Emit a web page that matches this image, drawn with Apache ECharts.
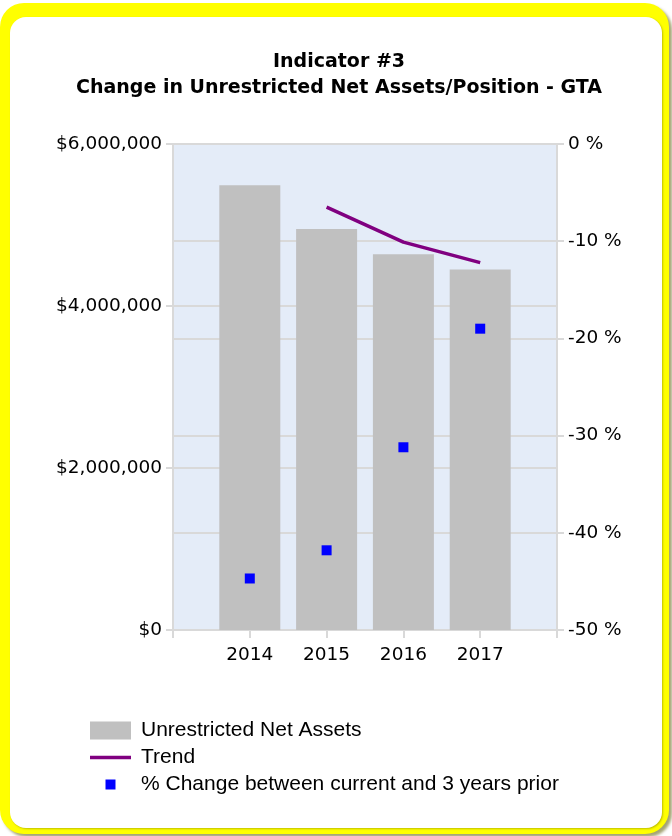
<!DOCTYPE html>
<html>
<head>
<meta charset="utf-8">
<script src="https://cdn.jsdelivr.net/npm/echarts@6/dist/echarts.min.js"></script>
<style>
html,body{margin:0;padding:0;background:#fff;}
#chart{width:672px;height:836px;}
</style>
</head>
<body>
<div id="chart"></div>
<script>
// ---- data ----
var years = [2014, 2015, 2016, 2017];
var netAssets = [5490000, 4950000, 4640000, 4450000];
var trendPct = [null, -6.5, -10.1, -12.2];
var changePct = [-44.7, -41.8, -31.2, -19.0];
var axisYears = [2013, 2018];
var leftTicks = [0, 6000000, 2000000];
var rightTicks = [-50, 0, 10];

var titleText = 'Indicator #3\nChange in Unrestricted Net Assets/Position - GTA';
var names = ['Unrestricted Net Assets', 'Trend', '% Change between current and 3 years prior'];

function pairs(xs, ys) {
  var out = [];
  for (var i = 0; i < xs.length; i++) {
    if (ys[i] !== null && ys[i] !== undefined) out.push([xs[i], ys[i]]);
  }
  return out;
}

var gridColor = '#D9D9D9';
var axisFont = { fontFamily: 'DejaVu Sans', fontSize: 18.5, color: '#000' };

var chart = echarts.init(document.getElementById('chart'), null, { renderer: 'canvas' });
chart.setOption({
  animation: false,
  backgroundColor: '#ffffff',
  graphic: [
    { type: 'rect', z: -100, shape: { x: 0, y: 3, width: 669, height: 831, r: 24 },
      style: { fill: '#FFFF00', shadowBlur: 3, shadowOffsetX: 3, shadowOffsetY: 3, shadowColor: 'rgba(90,90,0,0.55)' } },
    { type: 'rect', z: -99, shape: { x: 10, y: 17, width: 652, height: 811, r: 16 },
      style: { fill: '#FFFFFF', shadowBlur: 2, shadowOffsetX: 1, shadowOffsetY: 1, shadowColor: 'rgba(0,0,0,0.25)' } }
  ],
  title: {
    text: titleText,
    left: 339,
    textAlign: 'center',
    top: 49,
    padding: 0,
    textStyle: { fontFamily: 'DejaVu Sans', fontWeight: 'bold', fontSize: 19, lineHeight: 26, color: '#000' }
  },
  grid: {
    left: 173, right: 115, top: 144, bottom: 206,
    show: true, backgroundColor: '#E4ECF8', borderWidth: 0
  },
  legend: {
    orient: 'vertical',
    left: 90,
    top: 720,
    padding: 0,
    itemWidth: 46,
    itemHeight: 18,
    itemGap: 6,
    itemStyle: { borderWidth: 0 },
    textStyle: { fontFamily: 'Liberation Sans', fontSize: 21, color: '#000', lineHeight: 18 },
    data: [
      { name: names[0], icon: 'path://M0,0h41v18h-41z M46,0L46,0' },
      { name: names[1], icon: 'path://M0,7.2h41v3.6h-41z M0,0L0,0 M46,18L46,18' },
      { name: names[2], icon: 'path://M15.5,4h10v10h-10z M0,0L0,0 M46,18L46,18' }
    ]
  },
  xAxis: {
    type: 'value',
    min: axisYears[0], max: axisYears[1], interval: 1,
    axisLine: { show: true, lineStyle: { color: gridColor, width: 2 } },
    axisTick: { show: true, length: 8, lineStyle: { color: gridColor, width: 2 } },
    axisLabel: Object.assign({ margin: 16, formatter: function (v) {
      return years.indexOf(v) >= 0 ? String(v) : '';
    } }, axisFont),
    splitLine: { show: false }
  },
  yAxis: [
    {
      type: 'value', position: 'left',
      min: leftTicks[0], max: leftTicks[1], interval: leftTicks[2],
      axisLine: { show: true, lineStyle: { color: gridColor, width: 2 } },
      axisTick: { show: true, length: 7, lineStyle: { color: gridColor, width: 2 } },
      axisLabel: Object.assign({ margin: 11, formatter: function (v) {
        return '$' + v.toLocaleString('en-US');
      } }, axisFont),
      splitLine: { show: true, lineStyle: { color: gridColor, width: 2 } }
    },
    {
      type: 'value', position: 'right',
      min: rightTicks[0], max: rightTicks[1], interval: rightTicks[2],
      axisLine: { show: true, lineStyle: { color: gridColor, width: 2 } },
      axisTick: { show: true, length: 7, lineStyle: { color: gridColor, width: 2 } },
      axisLabel: Object.assign({ margin: 11, formatter: function (v) {
        return v + ' %';
      } }, axisFont),
      splitLine: { show: true, lineStyle: { color: gridColor, width: 2 } }
    }
  ],
  series: [
    {
      name: names[0], type: 'bar', yAxisIndex: 0, barWidth: 61,
      itemStyle: { color: '#C0C0C0' },
      data: pairs(years, netAssets)
    },
    {
      name: names[1], type: 'line', yAxisIndex: 1, symbol: 'none',
      lineStyle: { color: '#800080', width: 3.5 }, itemStyle: { color: '#800080' },
      data: pairs(years, trendPct)
    },
    {
      name: names[2], type: 'scatter', yAxisIndex: 1, symbol: 'rect', symbolSize: 10,
      itemStyle: { color: '#0000FF', opacity: 1 },
      data: pairs(years, changePct)
    }
  ]
});
</script>
</body>
</html>
